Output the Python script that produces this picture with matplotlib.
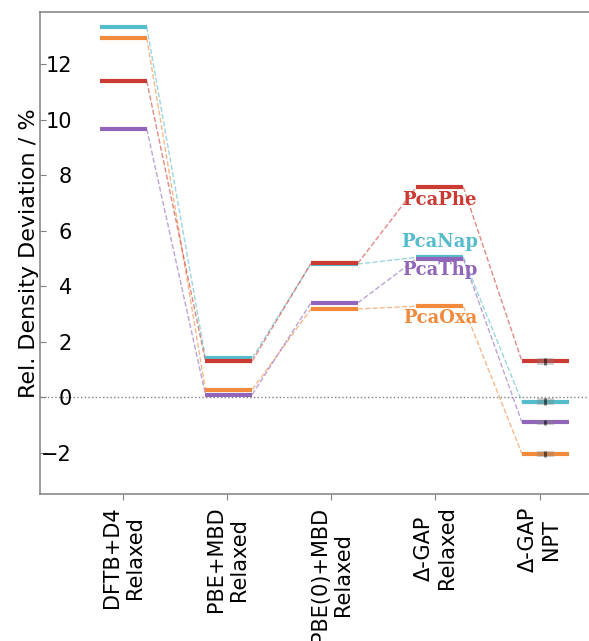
import numpy as np
import matplotlib
matplotlib.use("Agg")
import matplotlib.pyplot as plt

# methods (x categories)
methods = ["DFTB+D4\nRelaxed", "PBE+MBD\nRelaxed", "PBE(0)+MBD\nRelaxed",
           "Δ-GAP\nRelaxed", "Δ-GAP\nNPT"]

# relative density deviation (%) per crystal, one value per method
pca_nap = [13.33, 1.42, 4.80, 5.04, -0.16]
pca_oxa = [12.94, 0.28, 3.18, 3.28, -2.03]
pca_phe = [11.39, 1.31, 4.82, 7.57, 1.30]
pca_thp = [9.66, 0.10, 3.40, 4.99, -0.90]

# NPT spread
npt_err_nap = 0.12
npt_err_oxa = 0.10
npt_err_phe = 0.13
npt_err_thp = 0.10

series = [
    ("PcaNap", pca_nap, npt_err_nap, "#55bccb", 5.60),
    ("PcaOxa", pca_oxa, npt_err_oxa, "#f28a3c", 2.85),
    ("PcaPhe", pca_phe, npt_err_phe, "#cc3a34", 7.10),
    ("PcaThp", pca_thp, npt_err_thp, "#9166ba", 4.58),
]

fig = plt.figure(figsize=(5.89, 6.41), dpi=100)
ax = fig.add_axes([40 / 589, 147 / 641, 560 / 589, 482.5 / 641])

half = 0.222
x = np.arange(len(methods))

ax.axhline(0, color="gray", linestyle=":", linewidth=1, zorder=1)

for name, vals, err, col, label_y in series:
    # level segments
    for xi, v in zip(x, vals):
        ax.plot([xi - half, xi + half], [v, v], color=col, linewidth=3, zorder=3,
                solid_capstyle="butt")
    # dashed connectors between neighbouring levels
    for i in range(len(vals) - 1):
        ax.plot([x[i] + half, x[i + 1] - half], [vals[i], vals[i + 1]],
                color=col, linestyle="--", linewidth=1, alpha=0.6, zorder=2)
    # spread of the NPT run
    ax.bar(x[-1], 2 * err, bottom=vals[-1] - err, width=0.16,
           color="gray", alpha=0.35, zorder=4)
    ax.vlines(x[-1], vals[-1] - err, vals[-1] + err, color="black",
              linewidth=2, alpha=0.55, zorder=5)
    ax.text(3.0, label_y, name, color=col, fontsize=13, fontweight="bold",
            family="DejaVu Serif", ha="center", va="center", zorder=6)

ax.set_xlim(-0.79, 4.518)
ax.set_ylim(-3.48, 13.89)

tick_pos = [0, 0.986, 1.97, 2.958, 3.948]
ax.set_xticks(tick_pos)
ax.set_xticklabels(methods, rotation=90, fontsize=15)
ax.set_yticks(np.arange(-2, 13, 2))
ax.set_yticklabels([str(v).replace("-", "\u2212") for v in range(-2, 13, 2)],
                   fontsize=15)
ax.tick_params(axis="y", direction="in", pad=-23, length=4, color="gray")
ax.tick_params(axis="x", direction="out", length=4, color="gray", pad=5)
for lab in ax.get_yticklabels():
    lab.set_horizontalalignment("right")

ax.set_ylabel("Rel. Density Deviation / %", fontsize=16, labelpad=1)
for s in ax.spines.values():
    s.set_color("gray")
    s.set_linewidth(1.1)

plt.savefig("out.png", dpi=100)
